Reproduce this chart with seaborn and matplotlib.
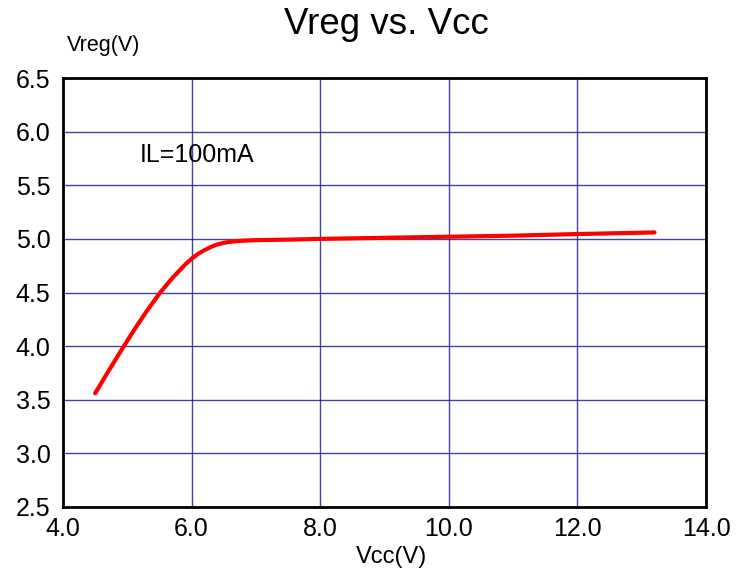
import matplotlib
matplotlib.use("Agg")
import matplotlib.pyplot as plt
import seaborn as sns
import pandas as pd

vcc = [4.5, 4.7, 4.9, 5.1, 5.3, 5.5, 5.7, 5.9, 6.0, 6.1, 6.2, 6.3, 6.4, 6.5, 6.6, 6.7, 6.8, 7.0, 7.5, 8.0, 9.0, 10.0, 11.0, 12.0, 13.2]
vreg = [3.56, 3.76, 3.955, 4.145, 4.325, 4.49, 4.635, 4.76, 4.815, 4.86, 4.895, 4.925, 4.948, 4.963, 4.973, 4.979, 4.983, 4.988, 4.993, 5.0, 5.01, 5.02, 5.03, 5.045, 5.06]
x_ticks = [4.0, 6.0, 8.0, 10.0, 12.0, 14.0]
y_ticks = [2.5, 3.0, 3.5, 4.0, 4.5, 5.0, 5.5, 6.0, 6.5]

sns.set_style("white")
plt.rcParams['font.family'] = ['Liberation Sans', 'DejaVu Sans']
plt.rcParams['text.color'] = 'black'

df = pd.DataFrame({"Vcc": vcc, "Vreg": vreg})

fig = plt.figure(figsize=(7.37, 5.73), dpi=100)
ax = fig.add_axes([63/737, 1-507/573, (706-63)/737, (507-78)/573])

sns.lineplot(data=df, x="Vcc", y="Vreg", ax=ax, color="#ff0000", linewidth=3, zorder=3)

ax.set_xlim(4, 14)
ax.set_ylim(2.5, 6.5)
ax.set_xticks(x_ticks)
ax.set_yticks(y_ticks)
ax.set_xticklabels([f"{v:.1f}" for v in x_ticks])
ax.set_yticklabels([f"{v:.1f}" for v in y_ticks])
ax.tick_params(axis="both", length=0, labelsize=18, colors="black", labelcolor="black")
ax.tick_params(axis="y", pad=9)
ax.tick_params(axis="x", pad=7)
ax.grid(True, color="#23238f", linewidth=1, alpha=0.85)
ax.set_axisbelow(True)
for s in ax.spines.values():
    s.set_color("black")
    s.set_linewidth(2)
ax.set_xlabel("")
ax.set_ylabel("")

ax.text(5.2, 5.78, "IL=100mA", fontsize=18, va="center", ha="left", color="black")

fig.text(386/737, 1-25/573, "Vreg vs. Vcc", fontsize=26.5, ha="center", va="center", color="black")
fig.text(67/737, 1-45/573, "Vreg(V)", fontsize=15.5, ha="left", va="center", color="black")
fig.text(392/737, 1-557/573, "Vcc(V)", fontsize=17, ha="center", va="center", color="black")

fig.savefig("out.png", dpi=100)
